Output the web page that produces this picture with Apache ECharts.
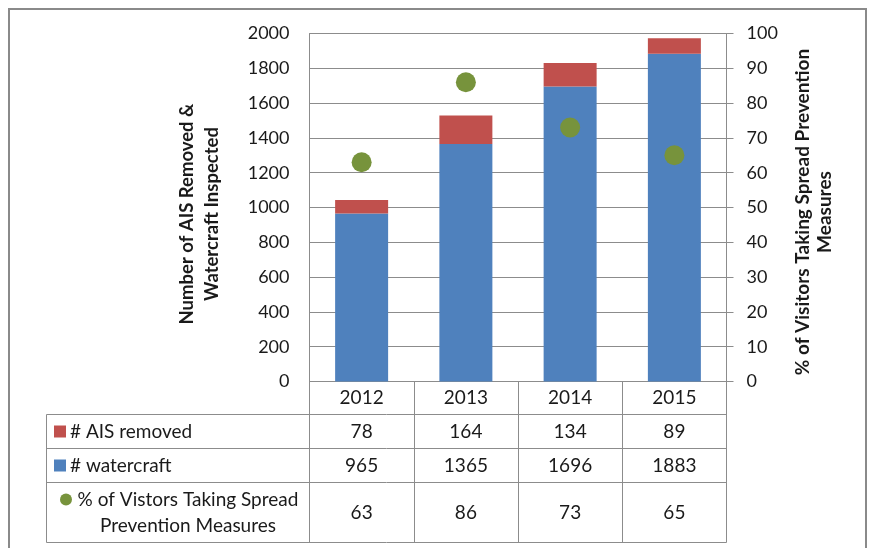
<!DOCTYPE html>
<html>
<head>
<meta charset="utf-8">
<script src="https://cdn.jsdelivr.net/npm/echarts@6/dist/echarts.min.js"></script>
<style>
  html, body { margin: 0; padding: 0; background: #fff; }
  #chart { width: 871px; height: 548px; }
</style>
</head>
<body>
<div id="chart"></div>
<script>
// Yearly inspection data
const years = ['2012', '2013', '2014', '2015'];
const aisRemoved = [78, 164, 134, 89];
const watercraft = [965, 1365, 1696, 1883];
const pctPrevention = [63, 86, 73, 65];

const leftTicks = { min: 0, max: 2000, interval: 200 };
const rightTicks = { min: 0, max: 100, interval: 10 };

const FONT = 'Lato, "Open Sans", sans-serif';
const TEXT = '#1a1a1a';
const LINE = '#8c8c8c';
const BLUE = '#4F81BD';
const RED = '#C0504D';
const GREEN = '#77933C';

// Plot area and data table geometry
const G = { left: 309.5, right: 726.5, top: 33.5, bottom: 381.5 };
const TABLE = { left: 46.5, rows: [381.5, 414.5, 448.5, 482.5, 542.5] };

const chart = echarts.init(document.getElementById('chart'));

const option = {
  animation: false,
  backgroundColor: '#fff',
  textStyle: { fontFamily: FONT },
  grid: {
    left: G.left, top: G.top,
    width: G.right - G.left, height: G.bottom - G.top,
    containLabel: false
  },
  xAxis: {
    type: 'category',
    data: years,
    boundaryGap: true,
    axisLine: { lineStyle: { color: LINE, width: 1 } },
    axisTick: { show: true, interval: 0, length: TABLE.rows[4] - G.bottom, lineStyle: { color: LINE } },
    axisLabel: { color: TEXT, fontSize: 19, fontFamily: FONT, margin: 7 }
  },
  yAxis: [
    {
      type: 'value',
      min: leftTicks.min, max: leftTicks.max, interval: leftTicks.interval,
      axisLine: { show: true, lineStyle: { color: LINE } },
      axisTick: { show: false },
      axisLabel: { color: TEXT, fontSize: 18, fontFamily: FONT, margin: 20, formatter: v => String(v) },
      splitLine: { lineStyle: { color: LINE, width: 1 } }
    },
    {
      type: 'value',
      position: 'right',
      min: rightTicks.min, max: rightTicks.max, interval: rightTicks.interval,
      axisLine: { show: true, lineStyle: { color: LINE } },
      axisTick: { show: true, length: 7, lineStyle: { color: LINE } },
      axisLabel: { color: TEXT, fontSize: 18, fontFamily: FONT, margin: 20, formatter: v => String(v) },
      splitLine: { show: false }
    }
  ],
  series: [
    {
      name: '# watercraft',
      type: 'bar',
      stack: 'total',
      data: watercraft,
      barWidth: 53,
      itemStyle: { color: BLUE }
    },
    {
      name: '# AIS removed',
      type: 'bar',
      stack: 'total',
      data: aisRemoved,
      barWidth: 53,
      itemStyle: { color: RED }
    },
    {
      name: '% of Vistors Taking Spread Prevention Measures',
      type: 'scatter',
      yAxisIndex: 1,
      data: pctPrevention,
      symbolSize: 20,
      itemStyle: { color: GREEN, opacity: 1 },
      z: 5
    }
  ]
};

chart.setOption(option);

// Data table below the plot, built from the same arrays
const graphics = [];
const rowMid = i => (TABLE.rows[i] + TABLE.rows[i + 1]) / 2;

// outer frame
graphics.push({
  type: 'rect', silent: true,
  shape: { x: 9, y: 9, width: 857, height: 560 },
  style: { fill: null, stroke: '#8a8a8a', lineWidth: 2 }
});

// table horizontal rules
for (let r = 1; r < TABLE.rows.length; r++) {
  graphics.push({
    type: 'line', silent: true,
    shape: { x1: TABLE.left, y1: TABLE.rows[r], x2: G.right, y2: TABLE.rows[r] },
    style: { stroke: LINE, lineWidth: 1 }
  });
}
// table left edge
graphics.push({
  type: 'line', silent: true,
  shape: { x1: TABLE.left, y1: TABLE.rows[1], x2: TABLE.left, y2: TABLE.rows[4] },
  style: { stroke: LINE, lineWidth: 1 }
});

const rows = [
  { label: '# AIS removed', values: aisRemoved, marker: 'rect', color: RED },
  { label: '# watercraft', values: watercraft, marker: 'rect', color: BLUE },
  { label: '% of Vistors Taking Spread\nPrevention Measures', values: pctPrevention, marker: 'circle', color: GREEN }
];

rows.forEach((row, r) => {
  const y = rowMid(r + 1);
  row.values.forEach((v, i) => {
    const x = chart.convertToPixel({ xAxisIndex: 0 }, years[i]);
    graphics.push({
      type: 'text', silent: true,
      style: {
        x: x, y: y, text: String(v), align: 'center', verticalAlign: 'middle',
        fontSize: 19, fontFamily: FONT, fill: TEXT
      }
    });
  });
  if (row.marker === 'rect') {
    graphics.push({
      type: 'rect', silent: true,
      shape: { x: 54, y: y - 6, width: 12, height: 12 },
      style: { fill: row.color }
    });
    graphics.push({
      type: 'text', silent: true,
      style: {
        x: 70, y: y, text: row.label, align: 'left', verticalAlign: 'middle',
        fontSize: 19, fontFamily: FONT, fill: TEXT
      }
    });
  } else {
    graphics.push({
      type: 'circle', silent: true,
      shape: { cx: 66, cy: y - 13, r: 6 },
      style: { fill: row.color }
    });
    graphics.push({
      type: 'text', silent: true,
      style: {
        x: 188, y: y, text: row.label, align: 'center', verticalAlign: 'middle',
        fontSize: 19, fontFamily: FONT, fill: TEXT, lineHeight: 26
      }
    });
  }
});

// axis titles
graphics.push({
  type: 'text', silent: true,
  x: 200, y: 214, rotation: Math.PI / 2,
  style: {
    x: 0, y: 0, text: 'Number of AIS Removed &\nWatercraft Inspected',
    align: 'center', verticalAlign: 'middle',
    fontSize: 18.5, fontWeight: 'bold', fontFamily: FONT, fill: TEXT, lineHeight: 25
  }
});
graphics.push({
  type: 'text', silent: true,
  x: 814, y: 212, rotation: Math.PI / 2,
  style: {
    x: 0, y: 0, text: '% of Visitors Taking Spread Prevention\nMeasures',
    align: 'center', verticalAlign: 'middle',
    fontSize: 19, fontWeight: 'bold', fontFamily: FONT, fill: TEXT, lineHeight: 22
  }
});

chart.setOption({ graphic: { elements: graphics } });
</script>
</body>
</html>
